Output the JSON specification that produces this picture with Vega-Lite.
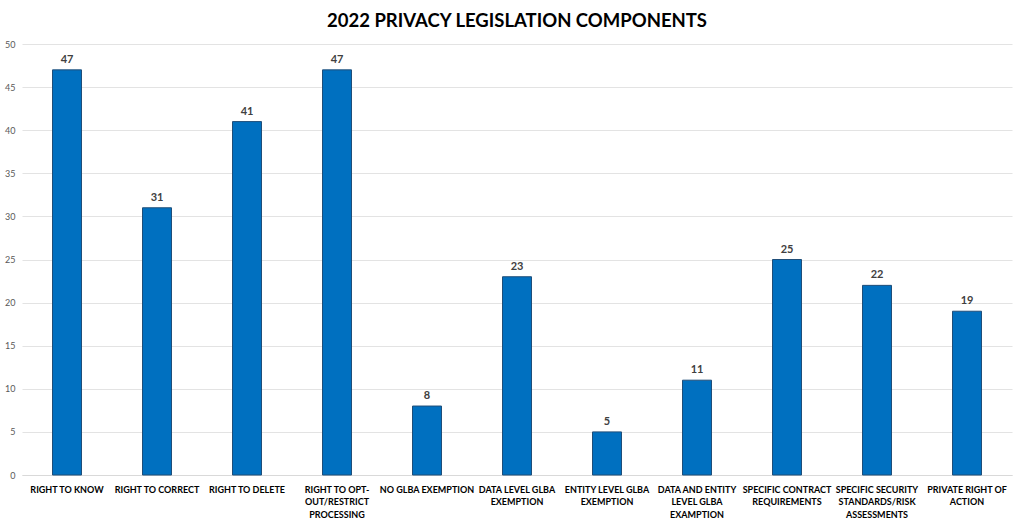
{
  "$schema": "https://vega.github.io/schema/vega-lite/v6.json",
  "autosize": {"type": "none"},
  "width": 990,
  "height": 431,
  "padding": {"left": 22, "top": 44, "right": 12, "bottom": 50},
  "background": "white",
  "title": {
    "text": "2022 PRIVACY LEGISLATION COMPONENTS",
    "font": "Lato",
    "fontSize": 18.5,
    "fontWeight": "bold",
    "color": "#000000",
    "anchor": "middle",
    "offset": 10
  },
  "data": {
    "values": [
      {"component": "RIGHT TO KNOW", "count": 47},
      {"component": "RIGHT TO CORRECT", "count": 31},
      {"component": "RIGHT TO DELETE", "count": 41},
      {"component": "RIGHT TO OPT-|OUT/RESTRICT|PROCESSING", "count": 47},
      {"component": "NO GLBA EXEMPTION", "count": 8},
      {"component": "DATA LEVEL GLBA|EXEMPTION", "count": 23},
      {"component": "ENTITY LEVEL GLBA|EXEMPTION", "count": 5},
      {"component": "DATA AND ENTITY|LEVEL GLBA|EXAMPTION", "count": 11},
      {"component": "SPECIFIC CONTRACT|REQUIREMENTS", "count": 25},
      {"component": "SPECIFIC SECURITY|STANDARDS/RISK|ASSESSMENTS", "count": 22},
      {"component": "PRIVATE RIGHT OF|ACTION", "count": 19}
    ]
  },
  "encoding": {
    "x": {
      "field": "component",
      "type": "nominal",
      "sort": null,
      "scale": {"paddingInner": 0, "paddingOuter": 0},
      "axis": {
        "title": null,
        "labelAngle": 0,
        "labelExpr": "split(datum.value, '|')",
        "labelFont": "Lato",
        "labelFontSize": 9,
        "labelFontWeight": "bold",
        "labelColor": "#000000",
        "labelLineHeight": 12.5,
        "labelPadding": 10,
        "ticks": false,
        "domainColor": "#d9d9d9",
        "labelLimit": 200
      }
    },
    "y": {
      "field": "count",
      "type": "quantitative",
      "scale": {"domain": [0, 50]},
      "axis": {
        "title": null,
        "values": [0, 5, 10, 15, 20, 25, 30, 35, 40, 45, 50],
        "labelFont": "Lato",
        "labelFontSize": 9,
        "labelColor": "#595959",
        "labelPadding": 7,
        "ticks": false,
        "domain": false,
        "gridColor": "#e3e3e3"
      }
    }
  },
  "layer": [
    {
      "mark": {"type": "bar", "size": 29, "color": "#0070C0", "stroke": "#1F4E79", "strokeWidth": 1}
    },
    {
      "mark": {"type": "text", "dy": -10, "font": "Lato", "fontSize": 11, "fontWeight": "bold", "color": "#404040"},
      "encoding": {"text": {"field": "count", "type": "quantitative"}}
    }
  ],
  "config": {"view": {"stroke": null}}
}
